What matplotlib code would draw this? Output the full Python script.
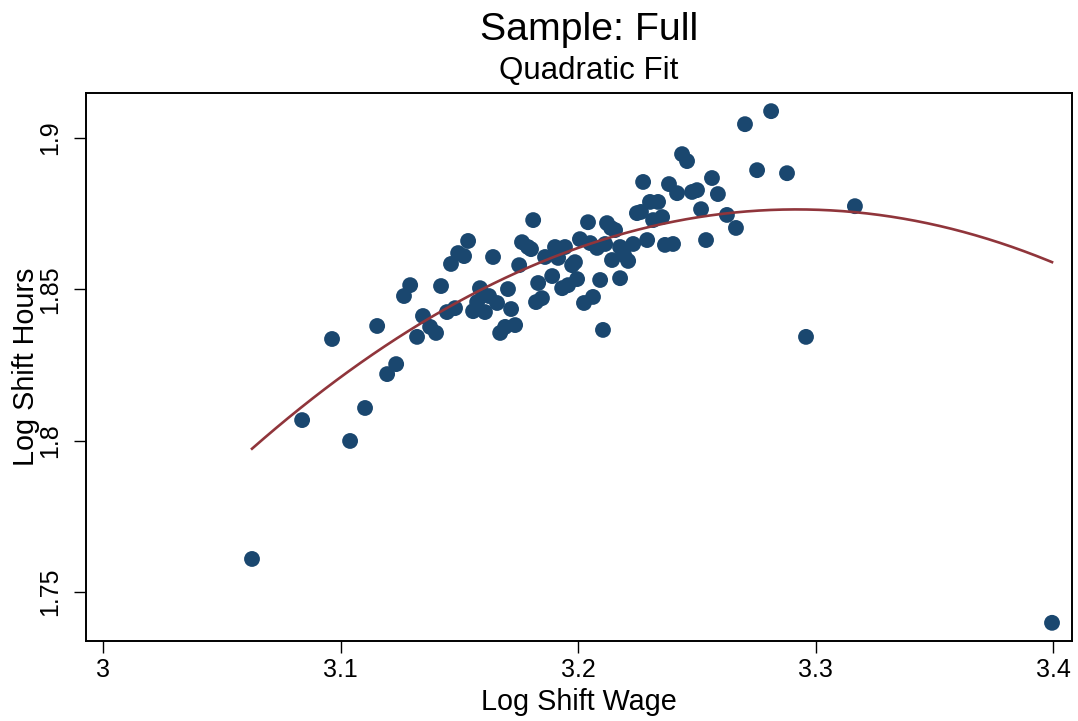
#!/usr/bin/env python3
"""
Scatter of log shift hours on log shift wage, with a quadratic fit.
"""

import numpy as np
import matplotlib
matplotlib.use("Agg")
import matplotlib.pyplot as plt

plt.rcParams["font.family"] = ["Liberation Sans", "DejaVu Sans"]

# valores
log_wage = [
    3.0627, 3.0838, 3.0964, 3.1040, 3.1103, 3.1154, 3.1196, 3.1234, 3.1267, 3.1293,
    3.1322, 3.1347, 3.1377, 3.1402, 3.1423, 3.1448, 3.1465, 3.1482, 3.1495, 3.1520,
    3.1537, 3.1558, 3.1575, 3.1587, 3.1608, 3.1625, 3.1642, 3.1659, 3.1672, 3.1693,
    3.1705, 3.1718, 3.1735, 3.1752, 3.1764, 3.1789, 3.1802, 3.1811, 3.1823, 3.1832,
    3.1848, 3.1861, 3.1891, 3.1903, 3.1916, 3.1933, 3.1945, 3.1958, 3.1975, 3.1996,
    3.1987, 3.2008, 3.2025, 3.2042, 3.2051, 3.2063, 3.2080, 3.2093, 3.2105, 3.2122,
    3.2139, 3.2156, 3.2114, 3.2143, 3.2177, 3.2177, 3.2194, 3.2211, 3.2232, 3.2248,
    3.2265, 3.2274, 3.2291, 3.2303, 3.2337, 3.2316, 3.2354, 3.2366, 3.2400, 3.2383,
    3.2417, 3.2438, 3.2459, 3.2480, 3.2501, 3.2518, 3.2539, 3.2564, 3.2589, 3.2627,
    3.2665, 3.2703, 3.2754, 3.2813, 3.2880, 3.2960, 3.3166, 3.3996,
]
log_hours = [
    1.7609, 1.8068, 1.8336, 1.7999, 1.8108, 1.8379, 1.8220, 1.8253, 1.8478, 1.8514,
    1.8343, 1.8412, 1.8376, 1.8356, 1.8511, 1.8425, 1.8584, 1.8438, 1.8620, 1.8610,
    1.8660, 1.8428, 1.8458, 1.8504, 1.8425, 1.8478, 1.8607, 1.8455, 1.8356, 1.8376,
    1.8501, 1.8435, 1.8382, 1.8580, 1.8656, 1.8640, 1.8633, 1.8729, 1.8458, 1.8521,
    1.8471, 1.8607, 1.8544, 1.8640, 1.8604, 1.8504, 1.8640, 1.8514, 1.8580, 1.8534,
    1.8590, 1.8666, 1.8455, 1.8722, 1.8653, 1.8475, 1.8637, 1.8531, 1.8366, 1.8719,
    1.8703, 1.8696, 1.8650, 1.8597, 1.8537, 1.8640, 1.8613, 1.8594, 1.8650, 1.8752,
    1.8756, 1.8855, 1.8663, 1.8789, 1.8789, 1.8729, 1.8739, 1.8647, 1.8650, 1.8848,
    1.8818, 1.8947, 1.8924, 1.8822, 1.8828, 1.8765, 1.8663, 1.8868, 1.8815, 1.8746,
    1.8703, 1.9046, 1.8894, 1.9089, 1.8884, 1.8343, 1.8775, 1.7398,
]

# ajuste cuadratico (el original viene de los microdatos):
# y = a*(x - centro)^2 + b*(x - centro) + c
fit_center = 3.2037
fit_coefs = [-1.5044, 0.26563, 1.8647]

x_ticks = [3.0, 3.1, 3.2, 3.3, 3.4]
x_tick_labels = ["3", "3.1", "3.2", "3.3", "3.4"]
y_ticks = [1.75, 1.80, 1.85, 1.90]
y_tick_labels = ["1.75", "1.8", "1.85", "1.9"]

NAVY = "#1a476f"
MAROON = "#90353b"


def main():
    x = np.array(log_wage)
    y = np.array(log_hours)

    xs = np.linspace(x.min(), x.max(), 200)
    ys = np.polyval(fit_coefs, xs - fit_center)

    fig = plt.figure(figsize=(10.78, 7.21), dpi=100)
    ax = fig.add_axes([0.0798, 0.111, 0.9146, 0.760])

    ax.scatter(x, y, s=130, color=NAVY, edgecolors="none", zorder=2)
    ax.plot(xs, ys, color=MAROON, linewidth=1.9, zorder=3)

    ax.set_xlim(2.9928, 3.408)
    ax.set_ylim(1.7338, 1.9149)

    ax.set_xticks(x_ticks)
    ax.set_xticklabels(x_tick_labels, fontsize=18)
    ax.set_yticks(y_ticks)
    ax.set_yticklabels(y_tick_labels, fontsize=18, rotation=90, va="center")
    ax.tick_params(axis="both", direction="out", length=8.5, width=1.0)
    ax.tick_params(axis="x", pad=4)
    ax.tick_params(axis="y", pad=9)

    for sp in ax.spines.values():
        sp.set_linewidth(1.4)

    ax.set_xlabel("Log Shift Wage", fontsize=20.7, labelpad=4)
    ax.set_ylabel("Log Shift Hours", fontsize=20.7)
    ax.yaxis.set_label_coords(-0.047, 0.5)

    # el titulo esta algo corrido a la derecha en el original
    fig.text(0.5464, 0.958, "Sample: Full", ha="center", va="center", fontsize=28.3)
    fig.text(0.5464, 0.902, "Quadratic Fit", ha="center", va="center", fontsize=22.5)

    fig.savefig("out.png", dpi=100)


if __name__ == "__main__":
    main()
